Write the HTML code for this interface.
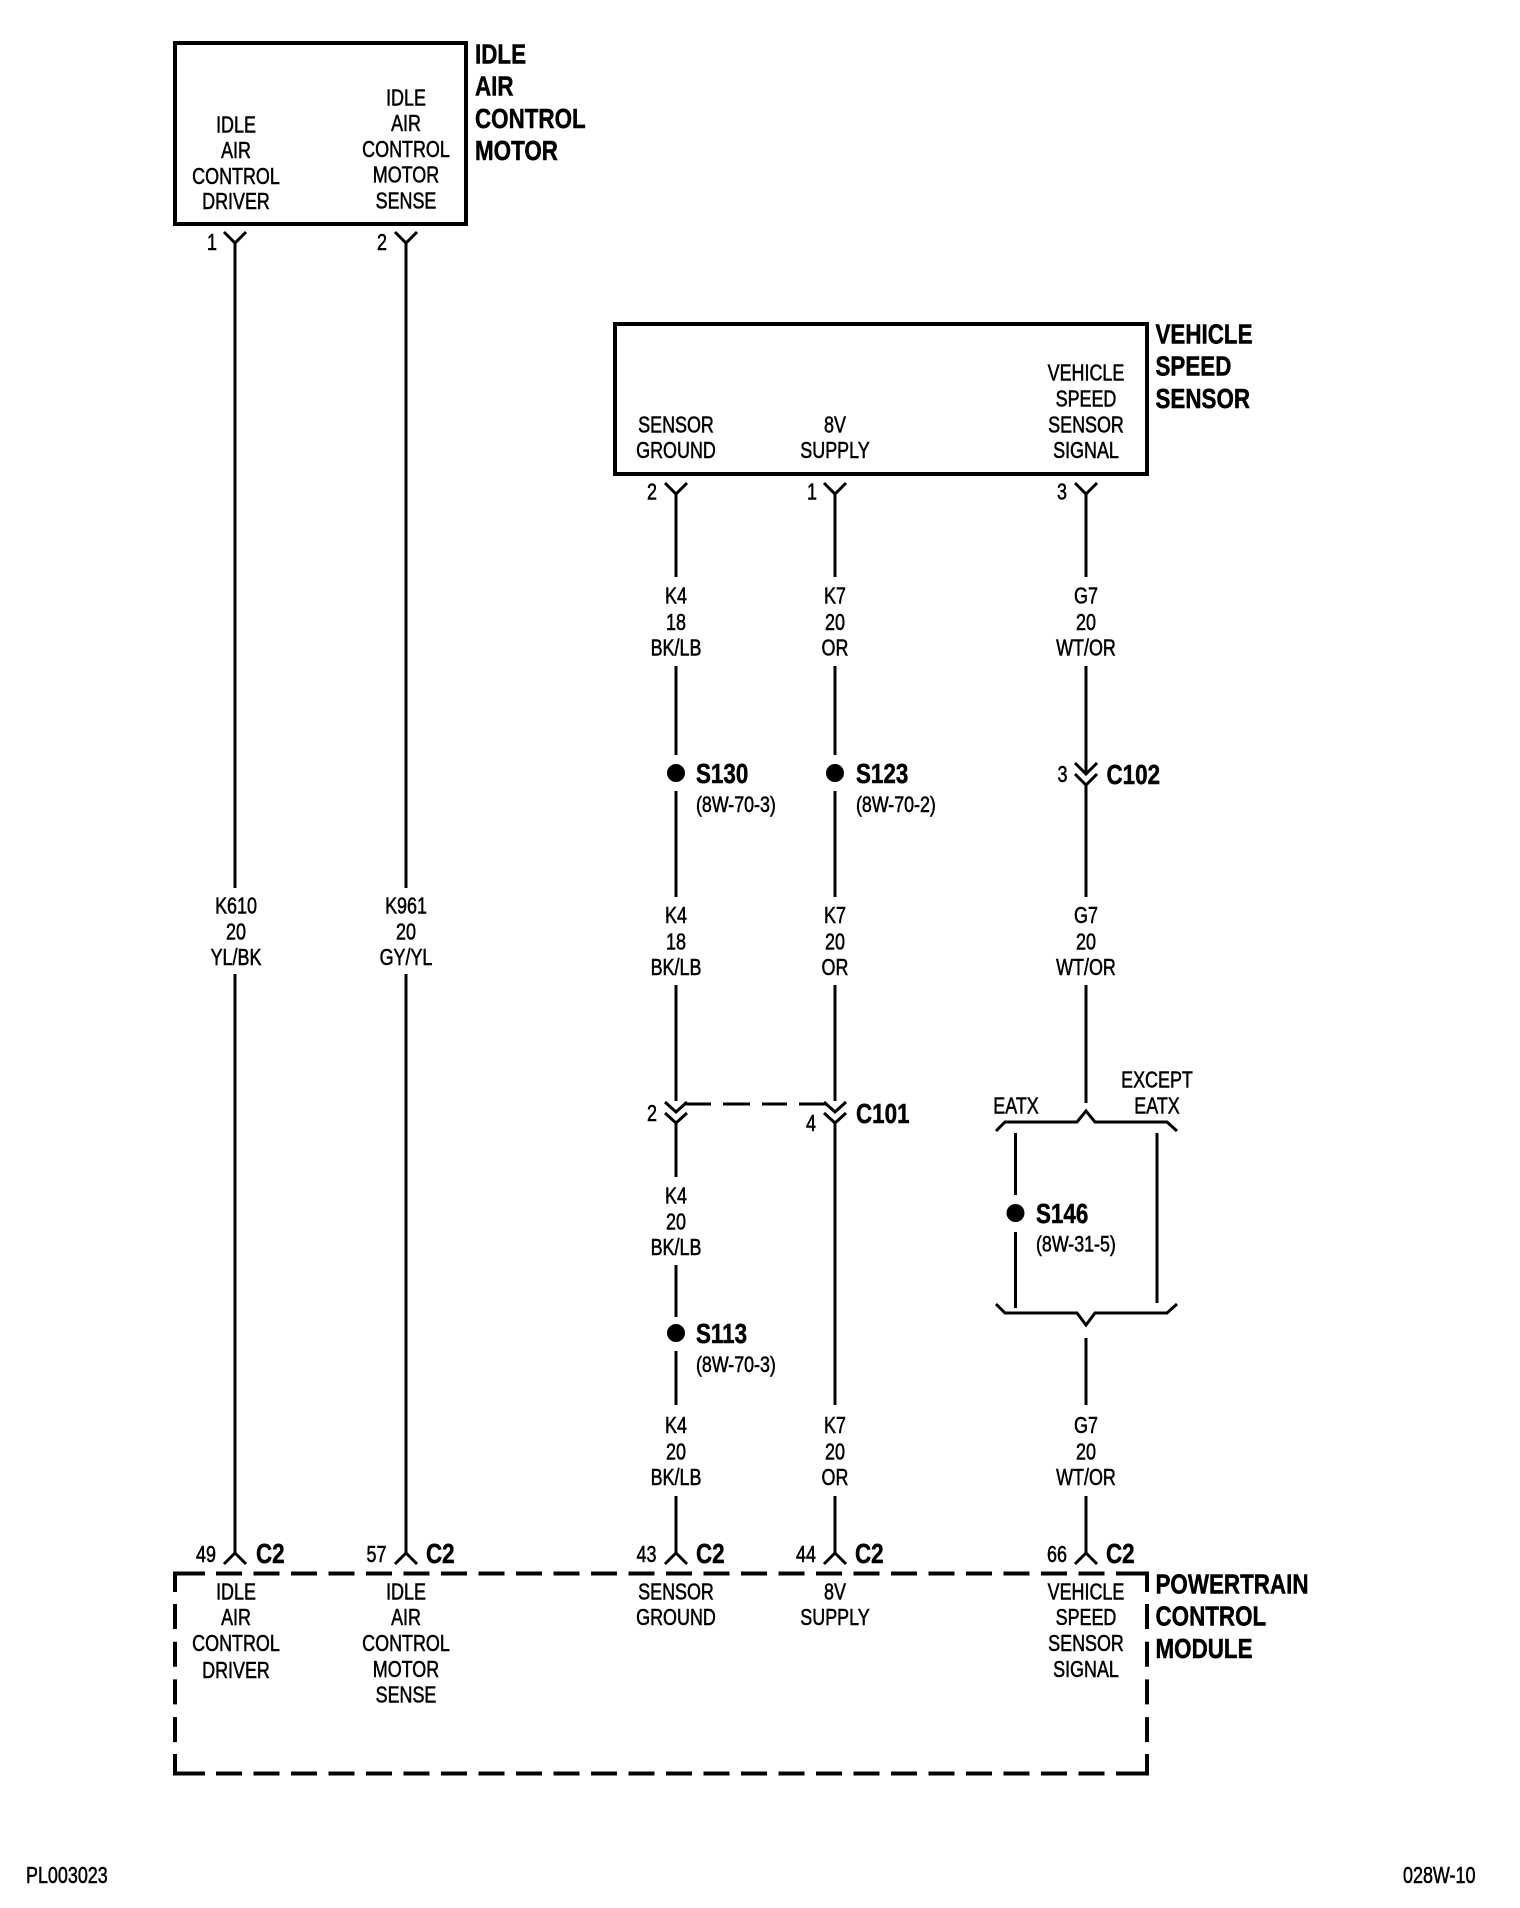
<!DOCTYPE html>
<html><head><meta charset="utf-8"><title>Diagram</title>
<style>
html,body{margin:0;padding:0;background:#fff;width:1520px;height:1908px;overflow:hidden}
svg{display:block}
text{font-family:"Liberation Sans",Arial,sans-serif;fill:#000}
.r{font-size:23px;text-anchor:middle;stroke:#000;stroke-width:.55px}
.l{font-size:23px;stroke:#000;stroke-width:.55px}
.b{font-size:28px;font-weight:bold;stroke:#000;stroke-width:.5px}
.w{fill:none;stroke:#000;stroke-width:3}
.k{fill:none;stroke:#000;stroke-width:4}
</style></head><body>
<svg width="1520" height="1908" viewBox="0 0 1520 1908" xmlns="http://www.w3.org/2000/svg">
<rect width="1520" height="1908" fill="#fff"/>

<!-- Idle air control motor -->
<rect class="k" x="175" y="43" width="291" height="181"/>
<text class="r" transform="matrix(.78 0 0 1 236 132.5)"><tspan x="0">IDLE</tspan><tspan x="0" dy="25.7">AIR</tspan><tspan x="0" dy="25.7">CONTROL</tspan><tspan x="0" dy="25">DRIVER</tspan></text>
<text class="r" transform="matrix(.78 0 0 1 406 105.5)"><tspan x="0">IDLE</tspan><tspan x="0" dy="25.7">AIR</tspan><tspan x="0" dy="25.7">CONTROL</tspan><tspan x="0" dy="25.7">MOTOR</tspan><tspan x="0" dy="25.7">SENSE</tspan></text>
<text class="b" transform="matrix(.8 0 0 1 475 63.5)"><tspan x="0">IDLE</tspan><tspan x="0" dy="32.2">AIR</tspan><tspan x="0" dy="32.2">CONTROL</tspan><tspan x="0" dy="32.2">MOTOR</tspan></text>
<text class="r" transform="matrix(.78 0 0 1 212 250)">1</text>
<text class="r" transform="matrix(.78 0 0 1 382 250)">2</text>
<path class="w" d="M224 232L235 243L246 232M235 243V888M235 974V1553M224 1564L235 1553L246 1564"/>
<path class="w" d="M395 232L406 243L417 232M406 243V888M406 974V1553M395 1564L406 1553L417 1564"/>
<text class="r" transform="matrix(.78 0 0 1 236 913.5)"><tspan x="0">K610</tspan><tspan x="0" dy="26">20</tspan><tspan x="0" dy="25.5">YL/BK</tspan></text>
<text class="r" transform="matrix(.78 0 0 1 406 913.5)"><tspan x="0">K961</tspan><tspan x="0" dy="26">20</tspan><tspan x="0" dy="25.5">GY/YL</tspan></text>

<!-- Vehicle speed sensor -->
<rect class="k" x="615" y="324" width="532" height="150"/>
<text class="r" transform="matrix(.78 0 0 1 1086 380.5)"><tspan x="0">VEHICLE</tspan><tspan x="0" dy="26">SPEED</tspan><tspan x="0" dy="26">SENSOR</tspan><tspan x="0" dy="25.7">SIGNAL</tspan></text>
<text class="r" transform="matrix(.78 0 0 1 676 432.5)"><tspan x="0">SENSOR</tspan><tspan x="0" dy="25.7">GROUND</tspan></text>
<text class="r" transform="matrix(.78 0 0 1 835 432.5)"><tspan x="0">8V</tspan><tspan x="0" dy="25.7">SUPPLY</tspan></text>
<text class="b" transform="matrix(.8 0 0 1 1155.5 343.5)"><tspan x="0">VEHICLE</tspan><tspan x="0" dy="32.2">SPEED</tspan><tspan x="0" dy="32.2">SENSOR</tspan></text>
<text class="r" transform="matrix(.78 0 0 1 652 499.5)">2</text>
<text class="r" transform="matrix(.78 0 0 1 812 499.5)">1</text>
<text class="r" transform="matrix(.78 0 0 1 1062 499.5)">3</text>

<!-- K4 wire -->
<path class="w" d="M665 483L676 494L687 483M676 494V577M676 666V755M676 791V897M676 985V1101M665 1102L676 1112L687 1102M665 1113L676 1123L687 1113M676 1123V1177M676 1265V1317M676 1351V1405M676 1496V1553M665 1564L676 1553L687 1564"/>
<text class="r" transform="matrix(.78 0 0 1 676 603.5)"><tspan x="0">K4</tspan><tspan x="0" dy="26.5">18</tspan><tspan x="0" dy="25.5">BK/LB</tspan></text>
<circle cx="676" cy="773" r="9"/>
<text class="b" transform="matrix(.8 0 0 1 696 783)">S130</text>
<text class="l" transform="matrix(.81 0 0 1 696 812)" style="font-size:22px">(8W-70-3)</text>
<text class="r" transform="matrix(.78 0 0 1 676 923)"><tspan x="0">K4</tspan><tspan x="0" dy="26.5">18</tspan><tspan x="0" dy="25.5">BK/LB</tspan></text>
<text class="r" transform="matrix(.78 0 0 1 652 1121)">2</text>
<text class="r" transform="matrix(.78 0 0 1 676 1203.5)"><tspan x="0">K4</tspan><tspan x="0" dy="26">20</tspan><tspan x="0" dy="25.5">BK/LB</tspan></text>
<circle cx="676" cy="1333" r="9"/>
<text class="b" transform="matrix(.8 0 0 1 696 1343)">S113</text>
<text class="l" transform="matrix(.81 0 0 1 696 1372)" style="font-size:22px">(8W-70-3)</text>
<text class="r" transform="matrix(.78 0 0 1 676 1433)"><tspan x="0">K4</tspan><tspan x="0" dy="26.5">20</tspan><tspan x="0" dy="25.5">BK/LB</tspan></text>

<!-- K7 wire -->
<path class="w" d="M824 483L835 494L846 483M835 494V577M835 666V755M835 791V897M835 985V1101M824 1102L835 1112L846 1102M824 1113L835 1123L846 1113M835 1123V1405M835 1496V1553M824 1564L835 1553L846 1564"/>
<text class="r" transform="matrix(.78 0 0 1 835 603.5)"><tspan x="0">K7</tspan><tspan x="0" dy="26.5">20</tspan><tspan x="0" dy="25.5">OR</tspan></text>
<circle cx="835" cy="773" r="9"/>
<text class="b" transform="matrix(.8 0 0 1 856 783)">S123</text>
<text class="l" transform="matrix(.81 0 0 1 856 812)" style="font-size:22px">(8W-70-2)</text>
<text class="r" transform="matrix(.78 0 0 1 835 923)"><tspan x="0">K7</tspan><tspan x="0" dy="26.5">20</tspan><tspan x="0" dy="25.5">OR</tspan></text>
<text class="r" transform="matrix(.78 0 0 1 811 1131)">4</text>
<text class="b" transform="matrix(.8 0 0 1 856 1123)">C101</text>
<text class="r" transform="matrix(.78 0 0 1 835 1433)"><tspan x="0">K7</tspan><tspan x="0" dy="26.5">20</tspan><tspan x="0" dy="25.5">OR</tspan></text>
<!-- C101 dashed link -->
<path class="w" d="M684 1104H711M723 1104H750M762 1104H787M799 1104H827"/>

<!-- G7 wire -->
<path class="w" d="M1075 483L1086 494L1097 483M1086 494V577M1086 666V773M1075 763L1086 774L1097 763M1075 774L1086 785L1097 774M1086 785V897M1086 985V1103M1086 1338V1405M1086 1496V1553M1075 1564L1086 1553L1097 1564"/>
<text class="r" transform="matrix(.78 0 0 1 1086 603.5)"><tspan x="0">G7</tspan><tspan x="0" dy="26.5">20</tspan><tspan x="0" dy="25.5">WT/OR</tspan></text>
<text class="r" transform="matrix(.78 0 0 1 1062.5 782)">3</text>
<text class="b" transform="matrix(.8 0 0 1 1106.5 784)">C102</text>
<text class="r" transform="matrix(.78 0 0 1 1086 923)"><tspan x="0">G7</tspan><tspan x="0" dy="26.5">20</tspan><tspan x="0" dy="25.5">WT/OR</tspan></text>
<text class="r" transform="matrix(.78 0 0 1 1016 1113.5)">EATX</text>
<text class="r" transform="matrix(.78 0 0 1 1157 1087.5)"><tspan x="0">EXCEPT</tspan><tspan x="0" dy="26">EATX</tspan></text>
<path class="w" d="M996 1131L1005 1122H1077L1086 1111L1095 1122H1167L1177 1131"/>
<path class="w" d="M1015.5 1133V1195M1015.5 1232V1308M1157 1133V1303"/>
<circle cx="1015.5" cy="1213" r="9"/>
<text class="b" transform="matrix(.8 0 0 1 1036 1223)">S146</text>
<text class="l" transform="matrix(.81 0 0 1 1036 1251.5)" style="font-size:22px">(8W-31-5)</text>
<path class="w" d="M996 1304L1005 1313H1077L1086 1325L1095 1313H1167L1177 1304"/>
<text class="r" transform="matrix(.78 0 0 1 1086 1433)"><tspan x="0">G7</tspan><tspan x="0" dy="26.5">20</tspan><tspan x="0" dy="25.5">WT/OR</tspan></text>

<!-- Powertrain control module -->
<path class="k" d="M175 1592V1573.5H205"/>
<path class="k" d="M216 1573.5H1116" stroke-dasharray="26 11.5"/>
<path class="k" d="M1116 1573.5H1147V1592"/>
<path class="k" d="M175 1604V1754" stroke-dasharray="25 12.7"/>
<path class="k" d="M1147 1604V1754" stroke-dasharray="25 12.7"/>
<path class="k" d="M175 1754V1773.5H205"/>
<path class="k" d="M216 1773.5H1116" stroke-dasharray="26 11.5"/>
<path class="k" d="M1116 1773.5H1147V1754"/>

<text class="r" transform="matrix(.78 0 0 1 206 1562)">49</text>
<text class="b" transform="matrix(.8 0 0 1 256 1563)">C2</text>
<text class="r" transform="matrix(.78 0 0 1 376.5 1562)">57</text>
<text class="b" transform="matrix(.8 0 0 1 426 1563)">C2</text>
<text class="r" transform="matrix(.78 0 0 1 646.5 1562)">43</text>
<text class="b" transform="matrix(.8 0 0 1 696 1563)">C2</text>
<text class="r" transform="matrix(.78 0 0 1 806 1562)">44</text>
<text class="b" transform="matrix(.8 0 0 1 855 1563)">C2</text>
<text class="r" transform="matrix(.78 0 0 1 1057 1562)">66</text>
<text class="b" transform="matrix(.8 0 0 1 1106 1563)">C2</text>

<text class="r" transform="matrix(.78 0 0 1 236 1599.5)"><tspan x="0">IDLE</tspan><tspan x="0" dy="25.7">AIR</tspan><tspan x="0" dy="25.7">CONTROL</tspan><tspan x="0" dy="27">DRIVER</tspan></text>
<text class="r" transform="matrix(.78 0 0 1 406 1599.5)"><tspan x="0">IDLE</tspan><tspan x="0" dy="25.7">AIR</tspan><tspan x="0" dy="25.7">CONTROL</tspan><tspan x="0" dy="26">MOTOR</tspan><tspan x="0" dy="25.7">SENSE</tspan></text>
<text class="r" transform="matrix(.78 0 0 1 676 1599.5)"><tspan x="0">SENSOR</tspan><tspan x="0" dy="25.7">GROUND</tspan></text>
<text class="r" transform="matrix(.78 0 0 1 835 1599.5)"><tspan x="0">8V</tspan><tspan x="0" dy="25.7">SUPPLY</tspan></text>
<text class="r" transform="matrix(.78 0 0 1 1086 1599.5)"><tspan x="0">VEHICLE</tspan><tspan x="0" dy="25.7">SPEED</tspan><tspan x="0" dy="25.7">SENSOR</tspan><tspan x="0" dy="26">SIGNAL</tspan></text>
<text class="b" transform="matrix(.8 0 0 1 1155.5 1593.5)"><tspan x="0">POWERTRAIN</tspan><tspan x="0" dy="32.2">CONTROL</tspan><tspan x="0" dy="32.2">MODULE</tspan></text>

<text class="l" transform="matrix(.78 0 0 1 26 1883)">PL003023</text>
<text class="l" transform="matrix(.78 0 0 1 1403 1883)">028W-10</text>
</svg>
</body></html>
